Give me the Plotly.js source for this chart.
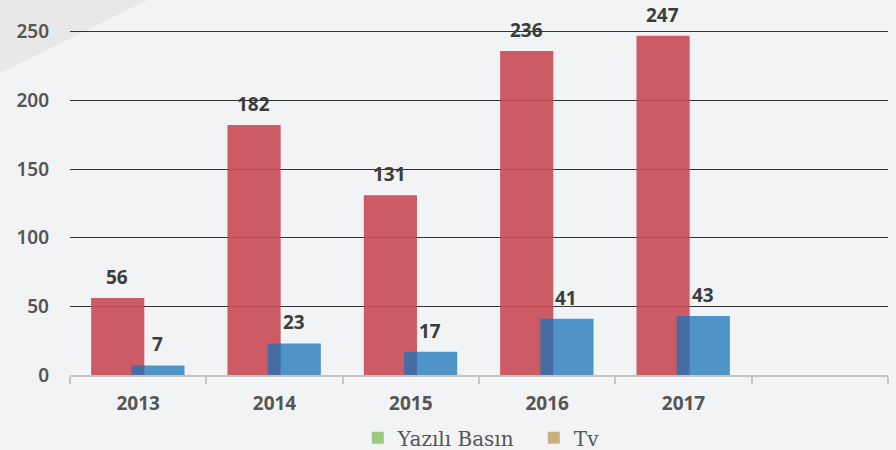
<!DOCTYPE html>
<html><head><meta charset="utf-8">
<script src="https://cdn.plot.ly/plotly-3.0.1.min.js"></script>
<style>html,body{margin:0;padding:0;background:#f2f3f5}#chart{width:896px;height:450px}</style>
</head><body><div id="chart"></div>
<script>
const years = ['2013','2014','2015','2016','2017'];
const slots = ['2013','2014','2015','2016','2017',' '];
const yaziliBasin = [56,182,131,236,247];
const tv = [7,23,17,41,43];
const legendNames = ['Yazılı Basın','Tv'];
const yTicks = [0,50,100,150,200,250];

const traces = [
  {type:'bar', x:years, y:yaziliBasin, width:0.39, offset:-0.345,
   marker:{color:'rgba(201,74,86,0.9)'}, showlegend:false, hoverinfo:'skip'},
  {type:'bar', x:years, y:tv, width:0.39, offset:-0.05,
   marker:{color:'rgba(22,115,185,0.74)'}, showlegend:false, hoverinfo:'skip'},
  {type:'bar', x:[slots[5]], y:[null], name:legendNames[0], marker:{color:'#9cc97f'}, showlegend:true},
  {type:'bar', x:[slots[5]], y:[null], name:legendNames[1], marker:{color:'#c8b083'}, showlegend:true}
];

const annotations = [];
years.forEach((yr,i)=>{
  annotations.push({x:i, y:yaziliBasin[i], xref:'x', yref:'y', text:String(yaziliBasin[i]),
    showarrow:false, yanchor:'bottom', xshift:-21, yshift:6,
    font:{family:'Noto Sans, sans-serif', size:19, color:'#3c3c3c', weight:700}});
  annotations.push({x:i, y:tv[i], xref:'x', yref:'y', text:String(tv[i]),
    showarrow:false, yanchor:'bottom', xshift:19, yshift:6,
    font:{family:'Noto Sans, sans-serif', size:19, color:'#3c3c3c', weight:700}});
});

const layout = {
  width:896, height:450,
  margin:{l:70, r:8, t:29, b:75},
  paper_bgcolor:'#f2f3f5', plot_bgcolor:'rgba(0,0,0,0)',
  barmode:'overlay',
  showlegend:true,
  legend:{orientation:'h', x:0.567, xanchor:'center', xref:'paper', yref:'container', y:0.027, yanchor:'middle',
    entrywidth:131, entrywidthmode:'pixels',
    font:{family:'DejaVu Serif, serif', size:20, color:'#555'}, bgcolor:'rgba(0,0,0,0)'},
  xaxis:{type:'category', categoryorder:'array', categoryarray:slots, range:[-0.5,5.5],
    tickson:'boundaries', ticks:'outside', ticklen:7, tickwidth:2, tickcolor:'#c4c4c4',
    showline:true, linecolor:'#c4c4c4', linewidth:2, showgrid:false, zeroline:false,
    tickfont:{family:'Noto Sans, sans-serif', size:19, color:'#555', weight:700},
    ticklabelstandoff:10, fixedrange:true},
  yaxis:{range:[0,252], tickvals:yTicks, showgrid:true, gridcolor:'#333', gridwidth:1,
    zeroline:false, showline:false, ticks:'',
    tickfont:{family:'Noto Sans, sans-serif', size:19, color:'#555', weight:600},
    ticklabelstandoff:20, fixedrange:true},
  annotations:annotations,
  shapes:[{type:'path', xref:'paper', yref:'paper', layer:'below',
    path:'M -0.0856 1.0841 L 0.0954 1.0841 L -0.0856 0.8728 Z',
    fillcolor:'#e8e8e8', line:{width:0}}]
};

Plotly.newPlot('chart', traces, layout, {displayModeBar:false, staticPlot:true});
</script></body></html>
